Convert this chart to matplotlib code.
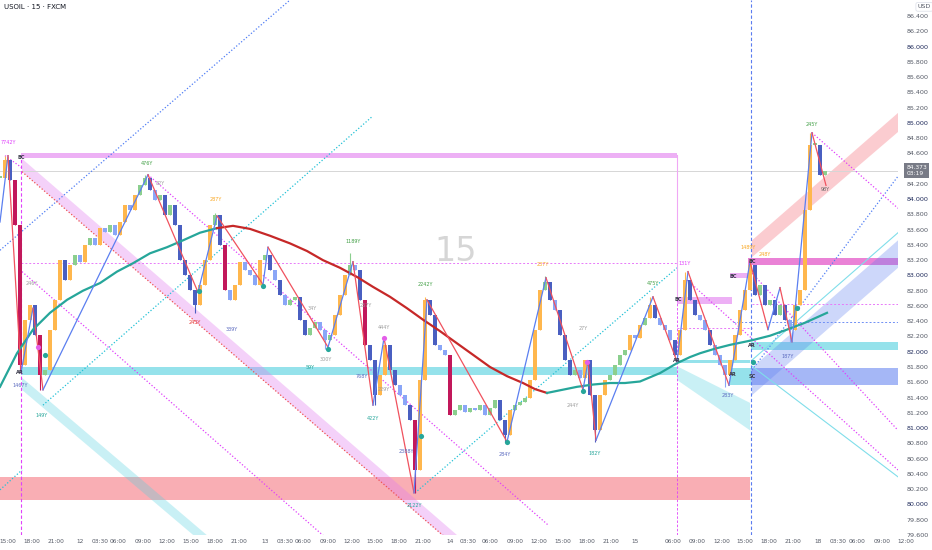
import numpy as np
import matplotlib
matplotlib.use('Agg')
import matplotlib.pyplot as plt
import matplotlib.transforms as mtransforms

# USOIL 15m: one candle per 5 px of the original (x = candle index)
close = [84.28, 84.51, 84.25, 83.66, 81.83, 82.42, 82.61, 82.22, 81.70, 81.76,
         82.29, 82.68, 83.20, 82.94, 83.14, 83.27, 83.18, 83.40, 83.49, 83.40,
         83.62, 83.57, 83.66, 83.53, 83.70, 83.92, 83.86, 84.05, 84.19, 84.28,
         84.12, 83.99, 84.05, 83.79, 83.92, 83.66, 83.20, 83.01, 82.81, 82.61,
         82.88, 83.20, 83.66, 83.79, 83.40, 82.81, 82.68, 82.88, 83.18, 83.07,
         83.01, 82.88, 83.20, 83.27, 83.07, 82.94, 82.74, 82.61, 82.68, 82.72,
         82.42, 82.22, 82.31, 82.39, 82.29, 82.15, 82.22, 82.48, 82.74, 83.01,
         83.14, 83.07, 82.68, 82.09, 81.89, 81.43, 81.70, 82.09, 81.76, 81.56,
         81.43, 81.30, 81.11, 80.45, 81.63, 82.68, 82.48, 82.09, 82.02, 81.96,
         81.17, 81.24, 81.30, 81.21, 81.26, 81.24, 81.30, 81.17, 81.26, 81.37,
         81.11, 80.91, 81.24, 81.30, 81.34, 81.39, 81.63, 82.29, 82.81, 82.91,
         82.68, 82.55, 82.22, 81.89, 81.70, 81.76, 81.66, 81.89, 81.43, 80.97,
         81.43, 81.63, 81.70, 81.83, 81.96, 82.02, 82.22, 82.18, 82.35, 82.44,
         82.61, 82.44, 82.35, 82.29, 82.15, 81.96, 82.29, 82.94, 82.68, 82.48,
         82.42, 82.29, 82.09, 81.96, 81.83, 81.70, 81.89, 82.22, 82.55, 82.81,
         83.14, 82.74, 82.88, 82.61, 82.68, 82.48, 82.61, 82.42, 82.29, 82.61,
         82.81, 83.86, 84.71, 84.71, 84.32, 84.37]
hi_idx = [1, 29, 43, 70, 85, 109, 130, 137, 150, 162]
hi_val = [84.57, 84.32, 83.82, 83.29, 82.72, 82.99, 82.72, 83.05, 83.22, 84.87]
lo_idx = [4, 8, 39, 65, 75, 83, 101, 119, 145, 158]
lo_val = [81.73, 81.50, 82.51, 82.04, 81.30, 80.15, 80.82, 80.82, 81.54, 82.13]
last_price = 84.373

xtick_pos = [1.6, 6.4, 11.2, 16, 20, 23.6, 28.6, 33.4, 38.2, 43, 47.8, 53, 57, 60.6,
             65.6, 70.4, 75, 79.8, 84.6, 90, 93.6, 98, 103, 107.8, 112.6, 117.4,
             122.2, 127, 134.6, 139.4, 144.4, 149, 153.8, 158.6, 163.6, 167.6,
             171.4, 176.4, 181.2]
xtick_lab = ['15:00', '18:00', '21:00', '12', '03:30', '06:00', '09:00', '12:00',
             '15:00', '18:00', '21:00', '13', '03:30', '06:00', '09:00', '12:00',
             '15:00', '18:00', '21:00', '14', '03:30', '06:00', '09:00', '12:00',
             '15:00', '18:00', '21:00', '15', '06:00', '09:00', '12:00', '15:00',
             '18:00', '21:00', '18', '03:30', '06:00', '09:00', '12:00']

# long moving average, teal while rising, red while falling
ma1_t = [0, 3.4, 6.6, 10, 13.4, 16.6, 20, 23.4, 26.6, 30, 33.4, 36.6, 40, 43.4]
ma1_p = [81.54, 81.98, 82.29, 82.51, 82.68, 82.80, 82.90, 83.05, 83.16, 83.29,
         83.37, 83.46, 83.56, 83.62]
ma2_t = [43.4, 46.6, 50, 54, 58, 61.4, 64.6, 68, 71.4, 74.6, 78, 81.4, 84.6, 88,
         91.4, 94.6, 98, 101.4, 104.6, 107, 109.4]
ma2_p = [83.62, 83.65, 83.61, 83.52, 83.42, 83.32, 83.20, 83.10, 82.98, 82.85, 82.72,
         82.57, 82.42, 82.27, 82.11, 81.96, 81.80, 81.68, 81.59, 81.51, 81.46]
ma3_t = [109.4, 112.4, 115.4, 118.6, 122, 125, 128, 132, 135.4, 138, 140, 143, 146,
         150.4, 154, 157.4, 161, 165.4]
ma3_p = [81.46, 81.50, 81.54, 81.57, 81.59, 81.59, 81.61, 81.72, 81.85, 81.93, 81.98,
         82.04, 82.09, 82.15, 82.21, 82.29, 82.38, 82.51]

# zigzag swing points
swing_t = [0, 1.6, 4.2, 6.6, 8.6, 29.6, 39.6, 43.4, 52.6, 53.6, 65.6, 70.6, 74.6,
           76.8, 82.8, 85.4, 101.4, 109.2, 116.6, 117.6, 119.2, 130.6, 135.4,
           137.6, 145.8, 150, 153.6, 156, 158.4, 162.4, 165.2]
swing_p = [83.70, 84.57, 81.73, 82.57, 81.50, 84.32, 82.78, 83.78, 82.88, 83.37,
           82.06, 83.18, 81.30, 82.18, 80.15, 82.68, 80.82, 82.97, 81.50, 81.87,
           80.84, 82.72, 81.87, 83.05, 81.56, 83.18, 82.29, 82.84, 82.13, 84.87, 84.18]

# horizontal zones: t0, t1, p_low, p_high
zone_pink = [(4.2, 135.4, 84.54, 84.60), (135.4, 146.4, 82.63, 82.72), (146.0, 150.0, 82.97, 83.03)]
zone_cyan = [(4.2, 135.4, 81.70, 81.80), (150.2, 179.6, 82.02, 82.13), (146.0, 150.2, 81.56, 81.79),
             (135.4, 150.0, 81.85, 81.89)]
zone_red = [(0, 150.0, 80.06, 80.36)]
zone_blue = [(150.2, 179.6, 81.56, 81.79)]
zone_magenta = [(149.6, 179.6, 83.14, 83.23)]

# sloped channels (polygons in t, price)
chan_pink = [(4.4, 84.53), (94, 79.45), (94, 79.28), (4.4, 84.36)]
chan_cyan = [(4.4, 81.66), (44, 79.45), (44, 79.30), (4.4, 81.50)]
chan_cyan2 = [(135.4, 81.81), (150, 81.33), (150, 80.97), (135.4, 81.63)]
chan_red = [(150.4, 83.46), (179.6, 85.13), (179.6, 84.88), (150.4, 83.24)]
chan_blue = [(150.4, 81.79), (179.6, 83.46), (179.6, 83.10), (150.4, 81.43)]

# trend lines: (t0, p0, t1, p1)
dot_blue = [(0, 83.33, 58, 86.61), (150.4, 81.76, 179.6, 84.30)]
dot_cyan = [(8.6, 81.30, 74.4, 85.08), (0, 80.19, 4.4, 80.45), (83, 80.15, 135.4, 83.10)]
dot_pink = [(29.6, 84.32, 109.6, 79.73), (4.4, 83.05, 65, 79.57), (1.0, 84.57, 4.4, 84.41),
            (162.4, 84.87, 179.6, 83.88), (137.4, 82.94, 179.6, 80.45), (150.4, 83.03, 179.6, 80.97)]
dot_red = [(4.4, 84.36, 92, 79.40)]
thin_cyan = [(150.4, 81.89, 179.6, 83.56), (150.4, 81.81, 179.6, 80.36)]
hdash_pink = [(4.2, 135.4, 83.16), (150.4, 179.6, 82.63), (135.4, 150.4, 82.31)]
hdash_blue = [(146.6, 179.6, 82.39)]

dots_teal_t = [9, 39.8, 52.6, 65.6, 84.2, 101.4, 116.6, 150.6, 159.4]
dots_teal_p = [81.96, 82.79, 82.86, 82.04, 80.90, 80.82, 81.49, 81.87, 82.57]
dots_pink_t = [7.6, 76.8, 117.4]
dots_pink_p = [82.06, 82.18, 81.87]

swing_labels = [(1.6, 84.74, '7742Y', '#e040fb'), (29.4, 84.47, '476Y', '#43a047'),
                (43.2, 84.00, '287Y', '#f9a825'), (39, 82.38, '243Y', '#e53935'),
                (46.4, 82.29, '339Y', '#5c6bc0'), (70.6, 83.45, '1189Y', '#43a047'),
                (65.2, 81.90, '300Y', '#9e9e9e'), (85, 82.88, '2242Y', '#43a047'),
                (108.6, 83.14, '237Y', '#f9a825'), (130.6, 82.89, '475Y', '#43a047'),
                (137, 83.16, '131Y', '#e040fb'), (149.6, 83.36, '1489Y', '#f9a825'),
                (153, 83.28, '248Y', '#f9a825'), (162.4, 84.98, '245Y', '#43a047'),
                (165, 84.12, '98Y', '#666666'), (157.6, 81.94, '187Y', '#5c6bc0'),
                (145.6, 81.42, '283Y', '#5c6bc0'), (119, 80.66, '182Y', '#26a69a'),
                (114.6, 81.30, '244Y', '#9e9e9e'), (116.6, 82.31, '27Y', '#9e9e9e'),
                (101, 80.65, '284Y', '#5c6bc0'), (82.8, 79.98, '2122Y', '#26a69a'),
                (81.2, 80.69, '2388Y', '#5c6bc0'), (74.6, 81.13, '422Y', '#26a69a'),
                (72.4, 81.68, '768Y', '#5c6bc0'), (76.8, 82.32, '444Y', '#9e9e9e'),
                (8.4, 81.16, '149Y', '#26a69a'), (4, 81.56, '1467Y', '#5c6bc0'),
                (62.4, 82.57, '34Y', '#9e9e9e'), (62, 81.79, '59Y', '#26a69a'),
                (73.2, 82.61, '257Y', '#9e9e9e'), (76.8, 81.50, '229Y', '#9e9e9e'),
                (32, 84.21, '82Y', '#9e9e9e'), (6.4, 82.90, '246Y', '#9e9e9e')]
event_labels = [(4.2, 84.55, 'BC'), (4.0, 81.73, 'AR'), (135.4, 81.89, 'AR'), (135.6, 82.68, 'BC'),
                (146.6, 82.99, 'BC'), (146.6, 81.70, 'AR'), (150.4, 83.18, 'BC'),
                (150.4, 82.08, 'AR'), (150.4, 81.68, 'SC')]

fig = plt.figure(figsize=(9.32, 5.5), dpi=100)
ax = fig.add_axes([0, 15 / 550, 898 / 932, 535 / 550])
ax.set_xlim(0, 179.6)
ax.set_ylim(79.598, 86.61)
for s in ax.spines.values():
    s.set_visible(False)

# zones
def zones(lst, fc, a):
    for t0, t1, p0, p1 in lst:
        ax.fill_between([t0, t1], p0, p1, color=fc, alpha=a, lw=0, zorder=1)

zones(zone_red, '#f23645', 0.4)
zones(zone_cyan, '#4fd0df', 0.6)
zones(zone_pink, '#e27cef', 0.6)
zones(zone_blue, '#5b7cf0', 0.55)
zones(zone_magenta, '#e040c0', 0.65)

for poly, fc, a in [(chan_pink, '#e27cef', 0.35), (chan_cyan, '#4fd0df', 0.3),
                    (chan_cyan2, '#4fd0df', 0.3), (chan_red, '#f23645', 0.25),
                    (chan_blue, '#5b7cf0', 0.3)]:
    ax.fill([q[0] for q in poly], [q[1] for q in poly], color=fc, alpha=a, lw=0, zorder=1)

dotted = (0, (1, 1.6))
for lst, c in [(dot_blue, '#4f7df5'), (dot_cyan, '#22c1d6'), (dot_pink, '#e040fb'), (dot_red, '#ef5350')]:
    for t0, p0, t1, p1 in lst:
        ax.plot([t0, t1], [p0, p1], color=c, lw=0.9, ls=dotted, zorder=2)
for t0, p0, t1, p1 in thin_cyan:
    ax.plot([t0, t1], [p0, p1], color='#80deea', lw=0.8, zorder=2)
for t0, t1, p in hdash_pink:
    ax.plot([t0, t1], [p, p], color='#e879f9', lw=0.7, ls=(0, (2, 2)), zorder=2)
for t0, t1, p in hdash_blue:
    ax.plot([t0, t1], [p, p], color='#6f8ff5', lw=0.7, ls=(0, (2, 2)), zorder=2)

# vertical markers and last price line
ax.plot([4.2, 4.2], [79.598, 84.58], color='#e040fb', lw=0.8, ls=(0, (3, 2)), zorder=2)
ax.plot([135.4, 135.4], [82.68, 84.58], color='#f0a8f5', lw=0.8, zorder=2)
ax.plot([135.4, 135.4], [79.598, 82.68], color='#e040fb', lw=0.6, ls=(0, (3, 2)), zorder=2)
ax.axvline(150.2, color='#5b7cf0', lw=0.8, ls=(0, (3, 2)), zorder=2)
ax.axhline(last_price, color='#d6d6d6', lw=0.7, zorder=1.5)

ax.text(91.2, 83.31, '15', fontsize=24, color='#d6d6d6', ha='center', va='center', zorder=0.5)

# candles
opn = np.array([close[0]] + close[:-1])
cls = np.array(close)
hi = np.maximum(opn, cls)
lo = np.minimum(opn, cls)
hi[hi_idx] = hi_val
lo[lo_idx] = lo_val
cols = []
for o, c in zip(opn, cls):
    d = c - o
    if d > 0.15:
        cols.append('#ffb74d')
    elif d >= 0:
        cols.append('#8bcf8e')
    elif d >= -0.15:
        cols.append('#8aa6f7')
    elif d >= -0.5:
        cols.append('#4a5fc1')
    else:
        cols.append('#c2185b')
t = np.arange(len(close))
ax.vlines(t, lo, hi, colors=cols, lw=0.8, zorder=3)
ax.bar(t, np.maximum(np.abs(cls - opn), 0.02), bottom=np.minimum(opn, cls),
       width=0.65, color=cols, lw=0, zorder=3)

# moving average
ax.plot(ma1_t, ma1_p, color='#26a69a', lw=1.6, zorder=4, solid_joinstyle='round')
ax.plot(ma2_t, ma2_p, color='#c62828', lw=1.6, zorder=4, solid_joinstyle='round')
ax.plot(ma3_t, ma3_p, color='#26a69a', lw=1.6, zorder=4, solid_joinstyle='round')

# zigzag
for i in range(len(swing_t) - 1):
    up = swing_p[i + 1] > swing_p[i]
    ax.plot(swing_t[i:i + 2], swing_p[i:i + 2], color='#5b7ff0' if up else '#f0525e',
            lw=0.9, zorder=5)

ax.scatter(dots_teal_t, dots_teal_p, s=14, color='#26a69a', zorder=6, lw=0)
ax.scatter(dots_pink_t, dots_pink_p, s=14, color='#e35ee8', zorder=6, lw=0)

for x, y, s, c in swing_labels:
    ax.text(x, y, s, fontsize=3.5, color=c, ha='center', va='center', zorder=7)
for x, y, s in event_labels:
    ax.text(x, y, s, fontsize=3.6, color='#3a3a4a', ha='center', va='center',
            fontweight='bold', zorder=7)

# axes
yt = np.round(np.arange(79.6, 86.41, 0.2), 1)
ax.yaxis.tick_right()
ax.set_yticks(yt)
ax.set_yticklabels(['' if abs(v - 84.4) < 1e-6 else f'{v:.3f}' for v in yt])
for lab, v in zip(ax.get_yticklabels(), yt):
    lab.set_color('#1e2a5a' if abs(v - round(v)) < 1e-6 else '#555a66')
ax.tick_params(axis='y', length=0, pad=6, labelsize=4.6)
ax.set_xticks(xtick_pos[:-1])
ax.set_xticklabels(xtick_lab[:-1])
ax.tick_params(axis='x', length=0, pad=3, labelsize=4.2, labelcolor='#555a66')
tr = mtransforms.offset_copy(mtransforms.blended_transform_factory(ax.transData, ax.transAxes),
                             fig=fig, y=-3, units='points')
ax.text(xtick_pos[-1], 0, xtick_lab[-1], transform=tr, fontsize=4.2, color='#555a66',
        ha='center', va='top', clip_on=False)

bt = mtransforms.blended_transform_factory(ax.transAxes, ax.transData)
ax.text(1.0095, last_price, f'{last_price:.3f}\n03:19', transform=bt, fontsize=4.3, color='white',
        ha='left', va='center', linespacing=1.1, clip_on=False, zorder=10,
        bbox=dict(boxstyle='square,pad=0.35', fc='#787b86', ec='none'))
ax.text(1.022, 86.52, 'USD', transform=bt, fontsize=4.5, color='#555a66', ha='left', va='center',
        clip_on=False, bbox=dict(boxstyle='round,pad=0.3', fc='white', ec='#e0e3eb', lw=0.6))
fig.text(4 / 932, 1 - 7 / 550, 'USOIL · 15 · FXCM', fontsize=5, color='#131722', va='center')

fig.savefig('out.png', dpi=100)
